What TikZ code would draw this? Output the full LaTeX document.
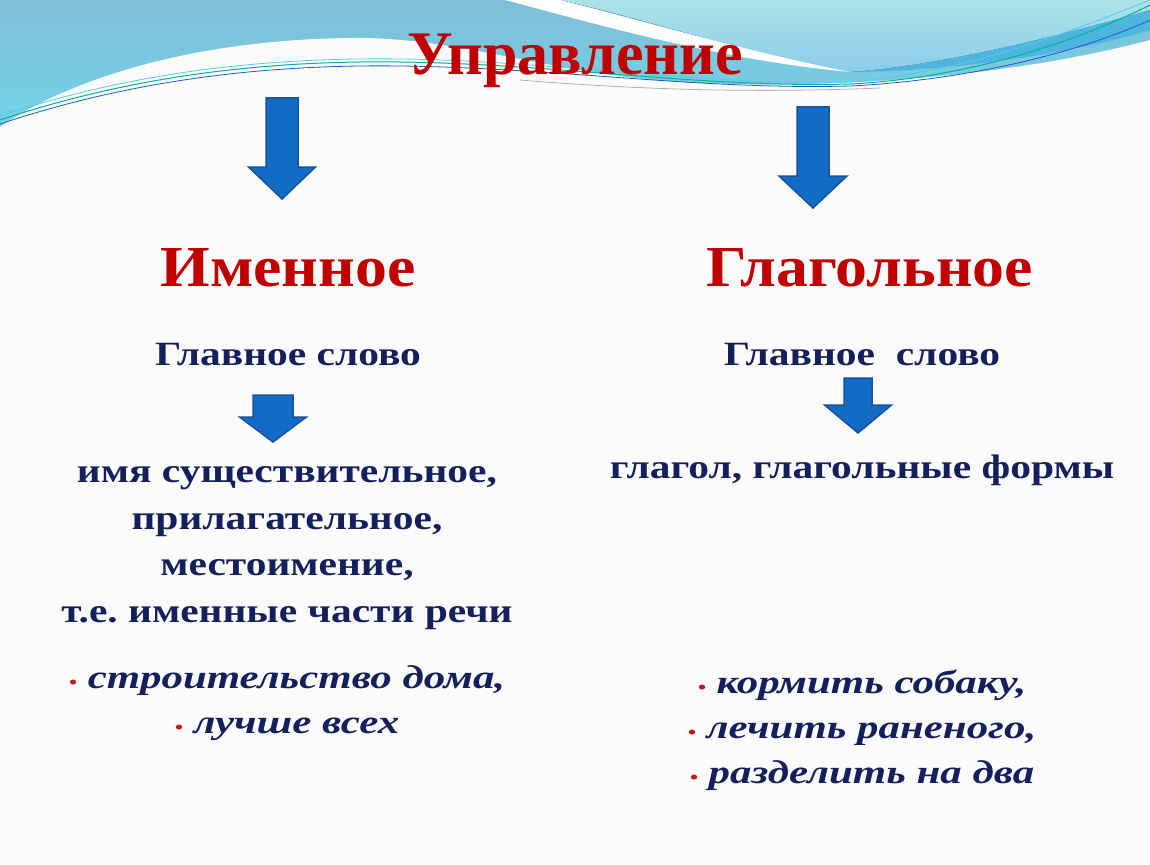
\documentclass[tikz,border=0pt]{standalone}
\usepackage{fontspec}
\setmainfont{Liberation Serif}
\newfontfamily\titlefont{Liberation Serif}
\newfontfamily\headfont[FakeStretch=1.1]{Liberation Serif}
\newfontfamily\bodyfont[FakeStretch=1.22]{Liberation Serif}
\newfontfamily\exfont[FakeStretch=1.3]{Liberation Serif}
\usetikzlibrary{positioning}
\frenchspacing

\definecolor{skytop}{RGB}{128,190,216}
\definecolor{skylow}{RGB}{112,214,234}
\definecolor{aquatop}{RGB}{172,227,232}
\definecolor{aqualow}{RGB}{140,204,234}
\definecolor{bandblue}{RGB}{78,182,222}
\definecolor{pagebg}{RGB}{251,251,251}
\definecolor{headred}{RGB}{192,0,0}
\definecolor{navy}{RGB}{20,32,92}
\definecolor{arrfill}{RGB}{18,108,198}
\definecolor{arrline}{RGB}{24,82,152}
\definecolor{dotred}{RGB}{200,20,30}
\definecolor{linecyan}{RGB}{90,200,232}
\definecolor{lineteal}{RGB}{0,180,150}
\definecolor{lineblue}{RGB}{30,90,200}

% block arrow: centre x, top, head start, tip, half shaft, half head
\newcommand{\blockarr}[6]{%
  \filldraw[blockarrow] (#1-#5,#2) -- (#1+#5,#2) -- (#1+#5,#3) -- (#1+#6,#3)
    -- (#1,#4) -- (#1-#6,#3) -- (#1-#5,#3) -- cycle;}
\newcommand{\exdot}{{\color{dotred}\fontsize{18}{18}\selectfont\textbullet}\ }

\begin{document}
\begin{tikzpicture}[x=1pt,y=-1pt,
    titletxt/.style={font=\titlefont\bfseries\fontsize{62}{62}\selectfont,text=headred,inner sep=0pt,anchor=base},
    headtxt/.style={font=\headfont\bfseries\fontsize{58}{58}\selectfont,text=headred,inner sep=0pt,anchor=base},
    bodytxt/.style={font=\bodyfont\bfseries\fontsize{34}{46.5}\selectfont,text=navy,inner sep=0pt,align=center,anchor=base},
    extxt/.style={font=\exfont\bfseries\itshape\fontsize{33}{45}\selectfont,text=navy,inner sep=0pt,align=center,anchor=base},
    blockarrow/.style={fill=arrfill,draw=arrline,line width=1.5pt,line join=miter}]
  \useasboundingbox (0,0) rectangle (1150,864);

  % background and waves
  \fill[pagebg] (0,0) rectangle (1150,864);
  \fill[top color=skytop,bottom color=skylow] (0,0) rectangle (1150,140);
  \fill[top color=aquatop,bottom color=aqualow] (560,0) .. controls (650,20) and (750,55) .. (850,72)
    .. controls (950,65) and (1080,30) .. (1150,10) -- (1150,0) -- cycle;
  \fill[white] (505,0) .. controls (600,25) and (720,60) .. (850,72)
    .. controls (740,50) and (640,20) .. (560,0) -- cycle;
  \fill[bandblue] (850,72) .. controls (950,65) and (1080,30) .. (1150,10)
    -- (1150,30) .. controls (1080,52) and (950,72) .. (850,72) -- cycle;
  \fill[pagebg] (0,127) .. controls (60,85) and (180,40) .. (350,38)
    .. controls (460,36) and (560,78) .. (700,83)
    .. controls (820,88) and (1000,80) .. (1150,40) -- (1150,864) -- (0,864) -- cycle;
  \draw[black!30,line width=0.8pt] (520,80) .. controls (640,90) and (760,93) .. (880,88);
  \draw[linecyan,line width=0.8pt]
    (0,116) .. controls (120,76) and (250,57) .. (400,59) .. controls (560,61) and (700,86) .. (850,82)
    .. controls (970,72) and (1080,28) .. (1150,0);
  \draw[lineteal,line width=1pt]
    (0,120) .. controls (120,80) and (250,60) .. (400,62) .. controls (560,64) and (700,88) .. (850,84)
    .. controls (970,78) and (1080,40) .. (1150,5);
  \draw[lineblue,line width=0.8pt]
    (0,124) .. controls (120,84) and (250,64) .. (400,66) .. controls (560,68) and (700,90) .. (850,86)
    .. controls (970,80) and (1080,52) .. (1150,20);

  % title and headings
  \node[titletxt] (T) at (575,75) {Управление};
  \node[headtxt] (N) at (288,286) {Именное};
  \node[headtxt] (V) at (870,286) {Глагольное};

  \blockarr{282}{98}{167}{199}{16}{33.5}
  \blockarr{813}{107}{176}{208}{16}{34}

  % main word
  \node[bodytxt] (NW) at (288,365) {Главное слово};
  \node[bodytxt] (VW) at (862,365) {Главное~~слово};

  \blockarr{273}{395}{417}{442}{20}{33.5}
  \blockarr{858}{378}{405}{433}{14}{33.5}

  % parts of speech (base = last line)
  \node[bodytxt] (NP) at (287,622) {имя существительное,\\прилагательное,\\местоимение,\\т.е. именные части речи};
  \node[bodytxt] (VP) at (862,478) {глагол, глагольные формы};

  % examples
  \node[extxt] (NE) at (287,733) {\exdot строительство дома,\\\exdot лучше всех};
  \node[extxt] (VE) at (862,783) {\exdot кормить собаку,\\\exdot лечить раненого,\\\exdot разделить на два};
\end{tikzpicture}
\end{document}
